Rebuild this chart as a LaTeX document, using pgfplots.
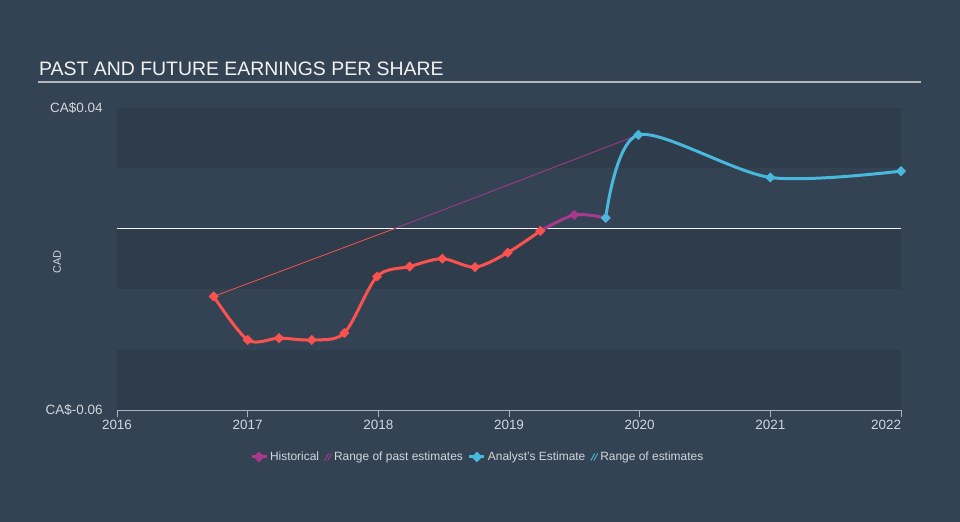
\documentclass[border=0pt]{standalone}
\usepackage{pgfplots}
\pgfplotsset{compat=1.18}
\usepackage{fontspec}
\setmainfont{Liberation Sans}

\definecolor{bg}{HTML}{344354}
\definecolor{band}{HTML}{2F3C4C}
\definecolor{titlec}{HTML}{F2F2F2}
\definecolor{titleline}{HTML}{B4BAC2}
\definecolor{ticklab}{HTML}{D2D6DB}
\definecolor{axisc}{HTML}{A9B3BE}
\definecolor{histred}{HTML}{F9524F}
\definecolor{histpurple}{HTML}{A9388F}
\definecolor{estcyan}{HTML}{48B9DD}

\begin{document}
\begin{tikzpicture}[x=1bp,y=1bp]
\fill[bg] (0,0) rectangle (960,522);
\node[anchor=base west, text=titlec, font=\fontsize{19.5}{20}\selectfont, inner sep=0] at (39,446) {PAST AND FUTURE EARNINGS PER SHARE};
\draw[titleline, line width=1.5bp] (38,440) -- (921,440);

\begin{axis}[
    at={(117bp,112bp)}, anchor=south west,
    scale only axis, width=784bp, height=302bp,
    xmin=2016, xmax=2022, ymin=-0.06, ymax=0.04,
    scaled y ticks=false,
    axis x line*=bottom, axis y line*=left,
    y axis line style={draw=none},
    x axis line style={draw=axisc, line width=1.2bp, -},
    xtick={2016,2017,2018,2019,2020,2021,2022},
    xticklabels={2016,2017,2018,2019,2020,2021,\makebox[0pt][r]{2022}},
    ytick={-0.06,0.04},
    yticklabels={CA\$-0.06,CA\$0.04},
    tick align=outside, major tick length=7bp,
    xtick style={draw=axisc, line width=1bp},
    ytick style={draw=none},
    tick label style={font=\fontsize{13.5}{14}\selectfont, text=ticklab},
    yticklabel style={xshift=-4bp},
    ylabel={CAD},
    ylabel style={at={(axis description cs:-0.0765,0.49)}, anchor=center, font=\fontsize{11}{12}\selectfont, text=ticklab},
    legend columns=4,
    legend style={at={(axis description cs:0.46,-0.1556)}, anchor=center, draw=none, fill=none,
        text=ticklab, font=\fontsize{12}{13}\selectfont,
        /tikz/every even column/.append style={column sep=3bp}},
    clip=false,
]
% background bands
\fill[band] (axis cs:2016,0.02) rectangle (axis cs:2022,0.04);
\fill[band] (axis cs:2016,-0.02) rectangle (axis cs:2022,0);
\fill[band] (axis cs:2016,-0.06) rectangle (axis cs:2022,-0.04);

% zero line
\addplot[forget plot, white!90!gray, line width=1.4bp] coordinates {(2016,0) (2022,0)};

% range of past estimates
\addplot[forget plot, histred, line width=0.8bp] coordinates {(2016.74,-0.0224) (2018.12,0)};
\addplot[forget plot, histpurple, line width=0.8bp] coordinates {(2018.12,0) (2019.99,0.0311)};

% historical
\addplot[forget plot, histred, line width=3bp, smooth, tension=0.5,
    mark=square*, mark size=3.3bp, mark options={rotate=45, line width=0.5bp}] coordinates {
    (2016.74,-0.0224) (2017.00,-0.0368) (2017.24,-0.0362) (2017.49,-0.0368)
    (2017.74,-0.0345) (2017.99,-0.0158) (2018.24,-0.0125) (2018.49,-0.0099)
    (2018.74,-0.0127) (2018.99,-0.0079) (2019.24,-0.0007)
};
\addplot[forget plot, histpurple, line width=3bp, smooth, tension=0.5,
    mark=square*, mark size=3.3bp, mark options={rotate=45, line width=0.5bp}] coordinates {
    (2019.24,-0.0007) (2019.50,0.0046) (2019.74,0.0036)
};
\addplot[forget plot, histred, only marks, mark=square*, mark size=3.3bp, mark options={rotate=45}]
    coordinates {(2019.24,-0.0007)};

% analyst estimate
\addplot[forget plot, estcyan, line width=3bp, smooth, tension=0.5,
    mark=square*, mark size=3.3bp, mark options={rotate=45, line width=0.5bp}] coordinates {
    (2019.74,0.0036) (2019.99,0.0311) (2021.00,0.0170) (2022.00,0.0191)
};

% legend
\addlegendimage{legend image code/.code={
    \draw[histpurple, line width=3bp] (0bp,0bp) -- (15bp,0bp);
    \fill[histpurple] (7.5bp,5bp) -- (12.5bp,0bp) -- (7.5bp,-5bp) -- (2.5bp,0bp) -- cycle;}}
\addlegendentry{Historical}
\addlegendimage{legend image code/.code={
    \draw[histpurple, line width=0.9bp] (0bp,-3.5bp) -- (4bp,3.5bp) (3bp,-3.5bp) -- (7bp,3.5bp);}}
\addlegendentry{Range of past estimates}
\addlegendimage{legend image code/.code={
    \draw[estcyan, line width=3bp] (0bp,0bp) -- (15bp,0bp);
    \fill[estcyan] (7.5bp,5bp) -- (12.5bp,0bp) -- (7.5bp,-5bp) -- (2.5bp,0bp) -- cycle;}}
\addlegendentry{Analyst's Estimate}
\addlegendimage{legend image code/.code={
    \draw[estcyan, line width=0.9bp] (0bp,-3.5bp) -- (4bp,3.5bp) (3bp,-3.5bp) -- (7bp,3.5bp);}}
\addlegendentry{Range of estimates}
\end{axis}
\end{tikzpicture}
\end{document}
